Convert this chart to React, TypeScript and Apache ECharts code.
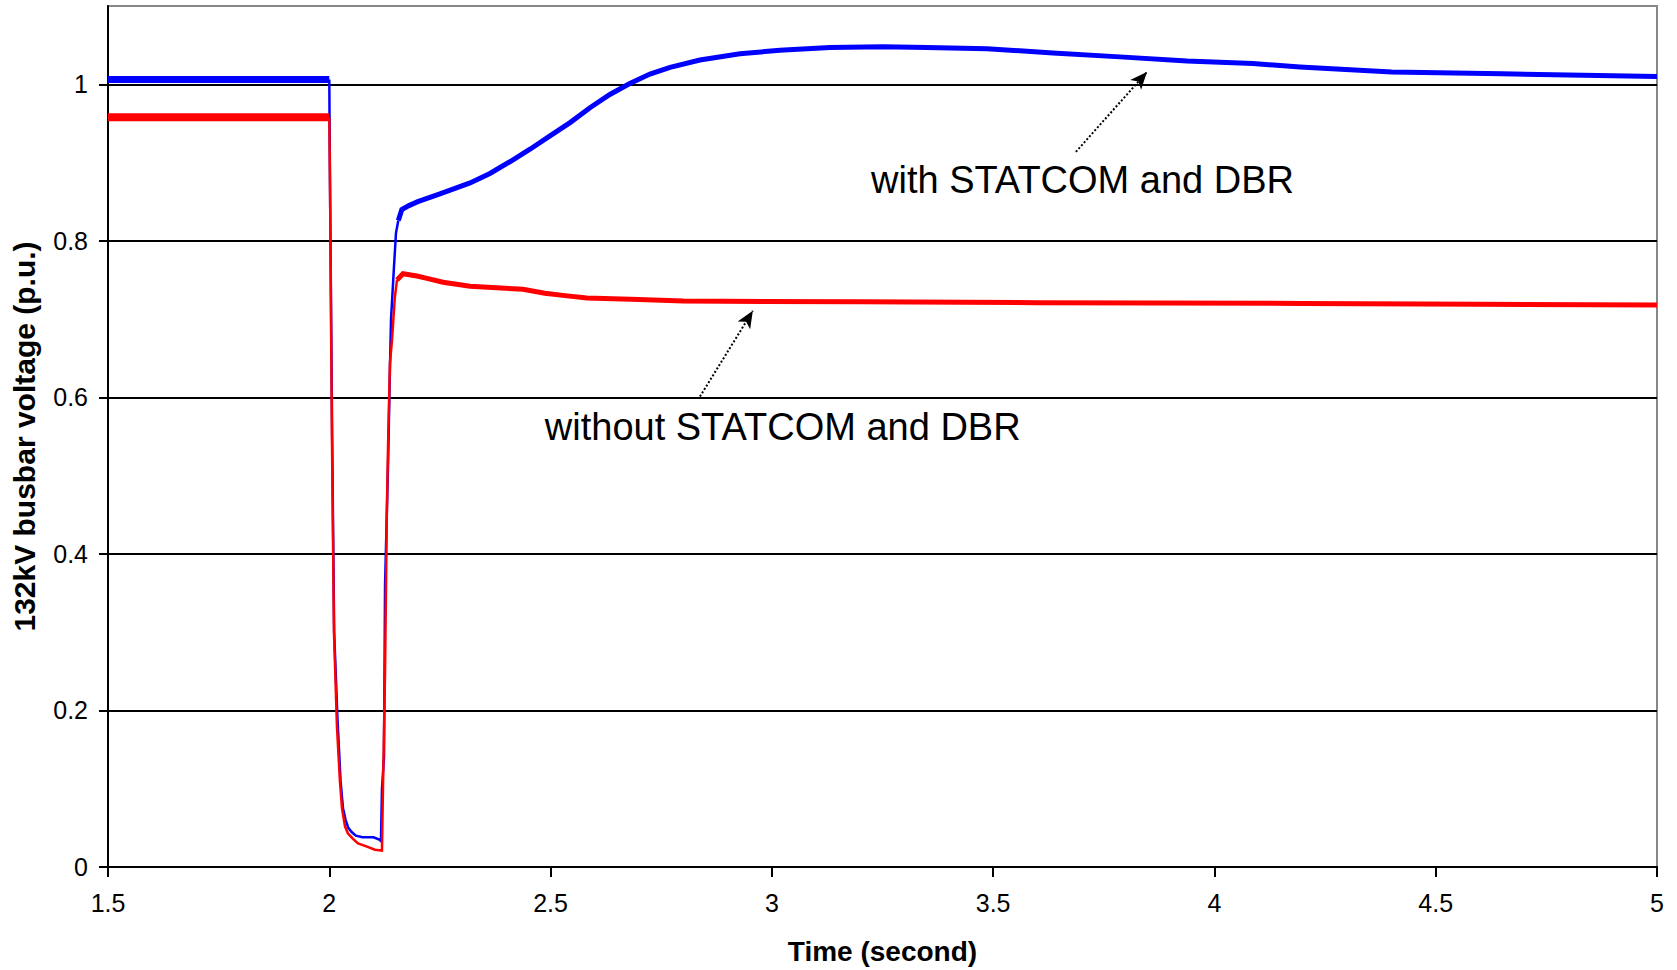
import React, { useEffect, useRef } from "react";
import * as echarts from "echarts";

// Axis ticks
const xTicks = [1.5, 2, 2.5, 3, 3.5, 4, 4.5, 5];
const yTicks = [0, 0.2, 0.4, 0.6, 0.8, 1];

// with STATCOM and DBR (blue)
const bluePre = [
  [1.5, 1.006],
  [2.0, 1.006],
];
const blueFault = [
  [2.0, 1.006], [2.0016, 0.874], [2.0065, 0.55], [2.011, 0.3], [2.0185, 0.19],
  [2.0255, 0.11], [2.031, 0.075], [2.037, 0.06], [2.043, 0.05], [2.05, 0.045],
  [2.06, 0.04], [2.075, 0.038], [2.1, 0.038], [2.113, 0.035], [2.1168, 0.033],
  [2.119, 0.1], [2.1236, 0.14], [2.126, 0.36], [2.133, 0.52], [2.1372, 0.64],
  [2.1395, 0.7], [2.1462, 0.767], [2.1507, 0.81], [2.156, 0.826],
];
const bluePost = [
  [2.156, 0.826], [2.164, 0.84], [2.18, 0.845], [2.2, 0.85], [2.25, 0.86],
  [2.318, 0.874], [2.363, 0.886], [2.408, 0.901], [2.4535, 0.917], [2.4987, 0.934],
  [2.544, 0.951], [2.589, 0.97], [2.634, 0.987], [2.679, 1.001], [2.7246, 1.013],
  [2.77, 1.0215], [2.8375, 1.031], [2.928, 1.039], [3.018, 1.0434], [3.131, 1.047],
  [3.25, 1.048], [3.35, 1.047], [3.486, 1.0455], [3.635, 1.04], [3.786, 1.035],
  [3.938, 1.0296], [4.087, 1.0264], [4.193, 1.022], [4.4, 1.0156], [4.65, 1.0134],
  [4.9, 1.011], [5.0, 1.01],
];

// without STATCOM and DBR (red)
const redPre = [
  [1.5, 0.958],
  [2.0, 0.958],
];
const redFault = [
  [2.0, 0.958], [2.0016, 0.874], [2.006, 0.55], [2.0106, 0.3], [2.0173, 0.18],
  [2.024, 0.11], [2.0287, 0.075], [2.0355, 0.052], [2.042, 0.043], [2.0536, 0.036],
  [2.0648, 0.03], [2.0807, 0.027], [2.1032, 0.022], [2.119, 0.021], [2.1213, 0.1],
  [2.126, 0.25], [2.13, 0.45], [2.1326, 0.534], [2.137, 0.643], [2.1417, 0.673],
  [2.148, 0.727], [2.153, 0.75],
];
const redPost = [
  [2.153, 0.75], [2.1665, 0.758], [2.198, 0.755], [2.2207, 0.752], [2.257, 0.747],
  [2.318, 0.742], [2.4376, 0.738], [2.487, 0.733], [2.5325, 0.73], [2.582, 0.727],
  [2.7, 0.725], [2.8, 0.723], [3.2, 0.722], [3.6, 0.721], [4.2, 0.72],
  [4.6, 0.719], [5.0, 0.718],
];

// Annotation labels and arrows (data coordinates)
const annotationTexts = ["with STATCOM and DBR", "without STATCOM and DBR"];
const annotationAnchors = [
  [3.224, 0.8776],
  [2.487, 0.5619],
];
const arrowTails = [
  [3.687, 0.9137],
  [2.8375, 0.601],
];
const arrowHeads = [
  [3.8475, 1.0156],
  [2.957, 0.7105],
];

const BLUE = "#0000ff";
const RED = "#ff0000";
const FONT = "'Liberation Sans', Arial, Helvetica, sans-serif";

export default function App() {
  const ref = useRef<HTMLDivElement>(null);

  useEffect(() => {
    if (!ref.current) return;
    const chart = echarts.init(ref.current, undefined, { renderer: "svg" });

    const line = (name: string, data: number[][], color: string, width: number, extra: any = {}) => ({
      name,
      type: "line",
      data,
      showSymbol: false,
      symbol: "none",
      silent: true,
      lineStyle: { color, width, cap: "butt", join: "miter" },
      itemStyle: { color },
      ...extra,
    });

    const arrowMark = (i: number) => ({
      silent: true,
      symbol: ["none", "arrow"],
      symbolSize: [11, 17],
      label: { show: false },
      lineStyle: { color: "#000", width: 2, type: [2, 2] },
      itemStyle: { color: "#000" },
      data: [[{ coord: arrowTails[i] }, { coord: arrowHeads[i] }]],
    });

    chart.setOption({
      animation: false,
      backgroundColor: "#ffffff",
      grid: {
        left: 108,
        right: 20,
        top: 6,
        bottom: 102,
        show: true,
        borderColor: "#888888",
        borderWidth: 2,
        backgroundColor: "transparent",
      },
      xAxis: {
        type: "value",
        min: xTicks[0],
        max: xTicks[xTicks.length - 1],
        interval: 0.5,
        name: "Time (second)",
        nameLocation: "middle",
        nameGap: 70,
        nameTextStyle: { fontFamily: FONT, fontWeight: "bold", fontSize: 28, color: "#000" },
        axisLine: { show: true, onZero: false, lineStyle: { color: "#000", width: 2 } },
        axisTick: { show: true, length: 10, lineStyle: { color: "#000", width: 2 } },
        axisLabel: { fontFamily: FONT, fontSize: 25, color: "#000", margin: 23 },
        splitLine: { show: false },
      },
      yAxis: {
        type: "value",
        min: 0,
        max: 1.1,
        interval: 0.2,
        name: "132kV busbar voltage (p.u.)",
        nameLocation: "middle",
        nameGap: 69,
        nameTextStyle: { fontFamily: FONT, fontWeight: "bold", fontSize: 30, color: "#000" },
        axisLine: { show: true, lineStyle: { color: "#000", width: 2 } },
        axisTick: { show: true, length: 9, customValues: yTicks, lineStyle: { color: "#000", width: 2 } },
        axisLabel: { fontFamily: FONT, fontSize: 25, color: "#000", margin: 20, customValues: yTicks },
        splitLine: { show: true, lineStyle: { color: "#000", width: 2 } },
      },
      series: [
        line("with-pre", bluePre, BLUE, 7),
        line("with-fault", blueFault, BLUE, 2.5),
        line("with-post", bluePost, BLUE, 5, { markLine: arrowMark(0) }),
        line("without-pre", redPre, RED, 8),
        line("without-fault", redFault, RED, 2.5),
        line("without-post", redPost, RED, 5, { markLine: arrowMark(1) }),
      ],
    });

    const graphics = annotationTexts.map((t, i) => {
      const p = chart.convertToPixel({ gridIndex: 0 }, annotationAnchors[i]) as number[];
      return {
        type: "text",
        x: p[0],
        y: p[1],
        silent: true,
        style: {
          text: t,
          fill: "#000",
          fontFamily: FONT,
          fontSize: 38,
          align: "left",
          verticalAlign: "middle",
        },
        z: 100,
      };
    });
    chart.setOption({ graphic: graphics });

    return () => {
      chart.dispose();
    };
  }, []);

  return (
    <div
      ref={ref}
      style={{ position: "absolute", left: 0, top: 0, width: 1677, height: 970, background: "#fff" }}
    />
  );
}
